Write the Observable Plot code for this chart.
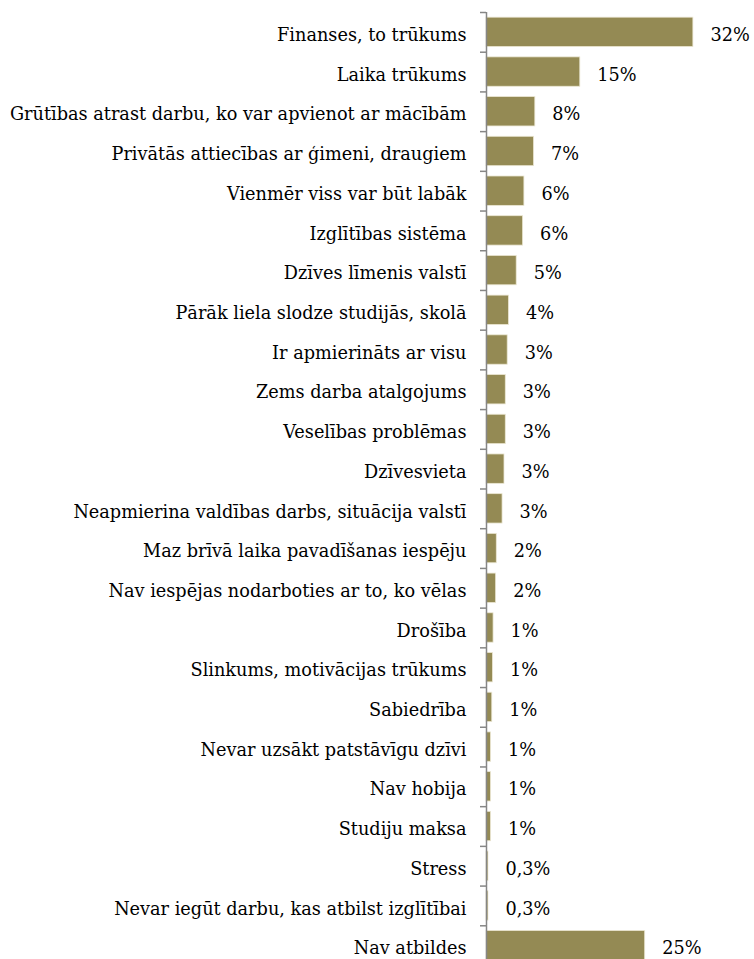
<!DOCTYPE html>
<html>
<head>
<meta charset="utf-8">
<script src="https://cdn.jsdelivr.net/npm/d3@7"></script>
<script src="https://cdn.jsdelivr.net/npm/@observablehq/plot@0.6"></script>
<style>
  html, body { margin: 0; padding: 0; background: #fff; overflow: hidden; }
</style>
</head>
<body>
<div id="chart"></div>
<script>
const categories = [
  "Finanses, to trūkums",
  "Laika trūkums",
  "Grūtības atrast darbu, ko var apvienot ar mācībām",
  "Privātās attiecības ar ģimeni, draugiem",
  "Vienmēr viss var būt labāk",
  "Izglītības sistēma",
  "Dzīves līmenis valstī",
  "Pārāk liela slodze studijās, skolā",
  "Ir apmierināts ar visu",
  "Zems darba atalgojums",
  "Veselības problēmas",
  "Dzīvesvieta",
  "Neapmierina valdības darbs, situācija valstī",
  "Maz brīvā laika pavadīšanas iespēju",
  "Nav iespējas nodarboties ar to, ko vēlas",
  "Drošība",
  "Slinkums, motivācijas trūkums",
  "Sabiedrība",
  "Nevar uzsākt patstāvīgu dzīvi",
  "Nav hobija",
  "Studiju maksa",
  "Stress",
  "Nevar iegūt darbu, kas atbilst izglītībai",
  "Nav atbildes"
];
const values = [32.2, 14.6, 7.6, 7.4, 5.9, 5.7, 4.7, 3.5, 3.3, 3.0, 3.0, 2.8, 2.5, 1.6, 1.5, 1.1, 1.0, 0.9, 0.7, 0.7, 0.7, 0.3, 0.3, 24.7];
const valueLabels = ["32%", "15%", "8%", "7%", "6%", "6%", "5%", "4%", "3%", "3%", "3%", "3%", "3%", "2%", "2%", "1%", "1%", "1%", "1%", "1%", "1%", "0,3%", "0,3%", "25%"];

const data = categories.map((c, i) => ({cat: c, value: values[i], label: valueLabels[i]}));

const W = 754, H = 965, MT = 12, MB = 0, ML = 486, MR = 11;
const step = (H - MT - MB) / categories.length;
const fontFamily = "'DejaVu Serif', serif";
const fs = 17.7;

const chart = Plot.plot({
  width: W,
  height: H,
  marginTop: MT,
  marginBottom: MB,
  marginLeft: ML,
  marginRight: MR,
  style: {fontFamily, fontSize: fs + "px", color: "#000", background: "#fff"},
  x: {domain: [0, 40], axis: null},
  y: {domain: categories, paddingInner: 0.26, paddingOuter: 0.13, round: false, label: null},
  marks: [
    Plot.barX(data, {x: "value", y: "cat", fill: "#948A54", stroke: "#ebe7d3", strokeWidth: 0.8}),
    Plot.axisY({tickSize: 0, tickPadding: 20, fontSize: fs, fontFamily, dy: 3, label: null}),
    Plot.axisY({tickSize: 6, tickFormat: () => "", stroke: "#868686", strokeWidth: 1.5, dy: -step / 2, label: null}),
    Plot.ruleX([0], {stroke: "#868686", strokeWidth: 1.5}),
    Plot.text(data, {x: "value", y: "cat", text: "label", dx: 17, dy: 3, textAnchor: "start", fontSize: fs, fontFamily, fill: "#000"})
  ]
});
document.getElementById("chart").appendChild(chart);
</script>
</body>
</html>
